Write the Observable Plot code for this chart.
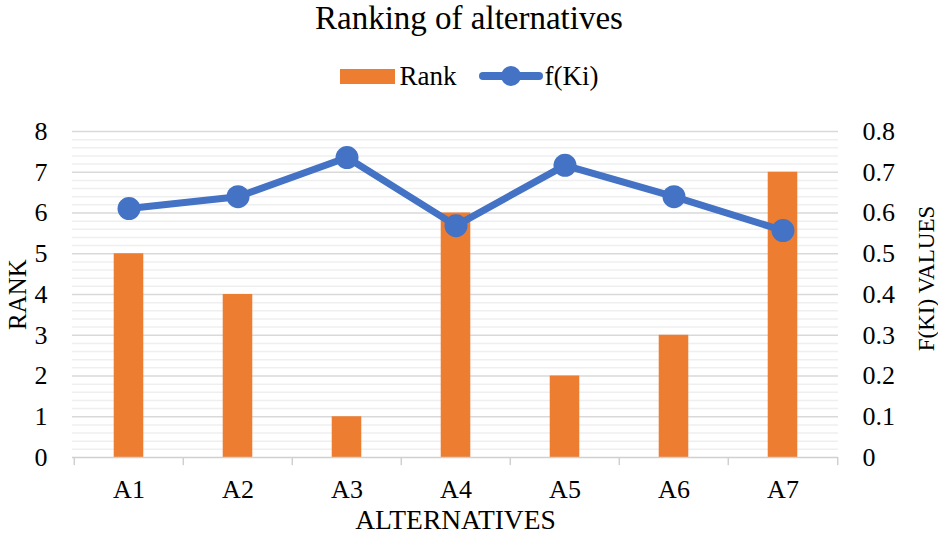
<!DOCTYPE html>
<html>
<head>
<meta charset="utf-8">
<script src="https://cdn.jsdelivr.net/npm/d3@7"></script>
<script src="https://cdn.jsdelivr.net/npm/@observablehq/plot@0.6"></script>
<style>
  body { margin: 0; background: #fff; }
  #wrap { width: 938px; font-family: "Liberation Serif", "Times New Roman", serif; color: #000; }
  #title { height: 36px; line-height: 36px; text-align: center; font-size: 33px; white-space: nowrap; }
  #legend { box-sizing: border-box; height: 69px; padding-top: 11px; display: flex; justify-content: center; align-items: center; font-size: 27px; }
  .sw { display: inline-block; width: 55px; height: 15px; background: #ED7D31; margin-right: 5px; }
  .item { display: flex; align-items: center; }
</style>
</head>
<body>
<div id="wrap">
  <div id="title">Ranking of alternatives</div>
  <div id="legend">
    <div class="item" style="margin-right:22px"><span class="sw"></span><span>Rank</span></div>
    <div class="item"><svg width="64" height="24" style="margin-right:2px"><line x1="4" y1="12" x2="60" y2="12" stroke="#4472C4" stroke-width="8" stroke-linecap="round"/><circle cx="32" cy="12" r="10" fill="#4472C4"/></svg><span>f(Ki)</span></div>
  </div>
  <div id="chart"></div>
</div>
<script>
const categories = ["A1", "A2", "A3", "A4", "A5", "A6", "A7"];
const rankValues = [5, 4, 1, 6, 2, 3, 7];
const fkiValues = [0.611, 0.640, 0.736, 0.569, 0.717, 0.640, 0.557];
const rankTicks = [0, 1, 2, 3, 4, 5, 6, 7, 8];
const fkiTickLabels = ["0", "0.1", "0.2", "0.3", "0.4", "0.5", "0.6", "0.7", "0.8"];
const xTitle = "ALTERNATIVES";
const yLeftTitle = "RANK";
const yRightTitle = "F(KI) VALUES";

const data = categories.map((c, i) => ({cat: c, rank: rankValues[i], f: fkiValues[i]}));
const minorTicks = d3.range(0, 8.0001, 0.2).filter(v => Math.abs(v - Math.round(v)) > 1e-6);
const majorTicks = rankTicks.filter(v => v > 0);

const W = 938, H = 435, ML = 72, MR = 100, MT = 26, MB = 83;
const bw = (W - ML - MR) / categories.length;
const barW = 30;
const inset = (bw - barW) / 2;
const serif = "'Liberation Serif', 'Times New Roman', serif";

const chart = Plot.plot({
  width: W, height: H,
  marginTop: MT, marginBottom: MB, marginLeft: ML, marginRight: MR,
  x: {domain: categories, padding: 0, axis: null},
  y: {domain: [0, 8], axis: null},
  style: {fontFamily: serif, fontSize: "26px", color: "#000", background: "#fff", overflow: "visible"},
  marks: [
    Plot.ruleY(minorTicks, {stroke: "#efefef", strokeWidth: 1.5}),
    Plot.ruleY(majorTicks, {stroke: "#d9d9d9", strokeWidth: 1.5}),
    Plot.barY(data, {x: "cat", y: "rank", fill: "#ED7D31", insetLeft: inset, insetRight: inset}),
    Plot.ruleY([0], {stroke: "#d0d0d0", strokeWidth: 1.5}),
    Plot.ruleX(categories, {x: d => d, y1: 0, y2: -0.2, dx: -bw / 2, stroke: "#d0d0d0", strokeWidth: 1.5}),
    Plot.ruleX(categories.slice(-1), {x: d => d, y1: 0, y2: -0.2, dx: bw / 2, stroke: "#d0d0d0", strokeWidth: 1.5}),
    Plot.axisX({tickSize: 0, tickPadding: 22, label: null, fontSize: 26}),
    Plot.axisY(rankTicks, {anchor: "left", tickSize: 0, tickPadding: 25, label: null, fontSize: 26}),
    Plot.axisY(rankTicks, {anchor: "right", tickSize: 0, tickPadding: 24, label: null, fontSize: 26, textAnchor: "start", tickFormat: d => fkiTickLabels[d]}),
    Plot.line(data, {x: "cat", y: d => d.f * 10, stroke: "#4472C4", strokeWidth: 7}),
    Plot.dot(data, {x: "cat", y: d => d.f * 10, r: 11.5, fill: "#4472C4"}),
    Plot.text([yLeftTitle], {text: d => d, frameAnchor: "left", textAnchor: "middle", dx: -55, rotate: -90, fontSize: 25}),
    Plot.text([yRightTitle], {text: d => d, frameAnchor: "right", textAnchor: "middle", dx: 88, dy: -16, rotate: -90, fontSize: 23}),
    Plot.text([xTitle], {text: d => d, frameAnchor: "bottom", textAnchor: "middle", dy: 71, fontSize: 27.5})
  ]
});
document.getElementById("chart").appendChild(chart);
</script>
</body>
</html>
